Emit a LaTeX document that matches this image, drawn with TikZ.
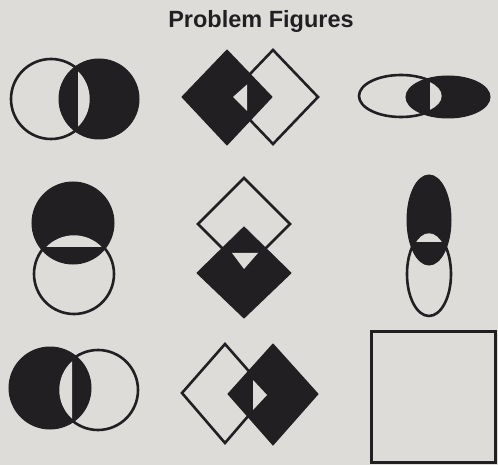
\documentclass[tikz,border=0pt]{standalone}
\usepackage{fontspec}
\setmainfont{Liberation Sans}
\definecolor{paper}{RGB}{221,220,216}
\definecolor{ink}{RGB}{34,31,35}

\begin{document}
\begin{tikzpicture}[x=1pt, y=-1pt,
    outline/.style={draw=ink, line width=2.6pt},
    solid/.style={fill=ink, draw=ink, line width=1pt},
    gap/.style={fill=paper}]

    \fill[paper] (0,0) rectangle (498,465);
    \useasboundingbox (0,0) rectangle (498,465);

    \node[anchor=base, font=\bfseries\fontsize{23.5}{28}\selectfont, text=ink] (title) at (261,28) {Problem Figures};

    % row 1
    \draw[solid] (99,99) circle (40);
    \draw[outline] (51,99) circle (40);
    \begin{scope}
        \clip (78,40) rectangle (120,160);
        \fill[gap] (51,99) circle (38.7);
    \end{scope}

    \draw[outline] (273,50) -- (318,97) -- (273,144) -- (228,97) -- cycle;
    \draw[solid] (227,50) -- (272,97) -- (227,145) -- (182,97) -- cycle;
    \fill[gap] (233,97) -- (247,84.5) -- (247,111) -- cycle;

    \draw[outline] (401,96) ellipse (42 and 21);
    \draw[solid] (448,97) ellipse (42 and 21);
    \begin{scope}
        \clip (430,60) rectangle (460,130);
        \fill[gap] (401,96) ellipse (40.7 and 19.7);
    \end{scope}

    % row 2
    \draw[outline] (74,274) circle (40);
    \draw[solid] (73,223) circle (41);
    \begin{scope}
        \clip (20,200) rectangle (130,247);
        \fill[gap] (74,274) circle (38.7);
    \end{scope}

    \draw[outline] (244,178) -- (290,224) -- (244,270) -- (198,224) -- cycle;
    \draw[solid] (244,227) -- (291,273) -- (244,318) -- (197,273) -- cycle;
    \fill[gap] (232,253) -- (258,253) -- (244,269) -- cycle;

    \draw[outline] (429,274) ellipse (22 and 42);
    \draw[solid] (429,220) ellipse (22 and 45);
    \begin{scope}
        \clip (400,200) rectangle (460,242);
        \fill[gap] (429,274) ellipse (20.7 and 40.7);
    \end{scope}

    % row 3
    \draw[outline] (98,390) circle (40);
    \draw[solid] (50,388) circle (41);
    \begin{scope}
        \clip (40,330) rectangle (72,450);
        \fill[gap] (98,390) circle (38.7);
    \end{scope}

    \draw[outline] (225,344) -- (268,393) -- (225,443) -- (182,393) -- cycle;
    \draw[solid] (273,344) -- (318,394) -- (273,445) -- (228,394) -- cycle;
    \fill[gap] (253,380) -- (267,395) -- (253,410) -- cycle;

    \draw[ink, line width=3pt] (371,331) rectangle (495,462);

\end{tikzpicture}
\end{document}
